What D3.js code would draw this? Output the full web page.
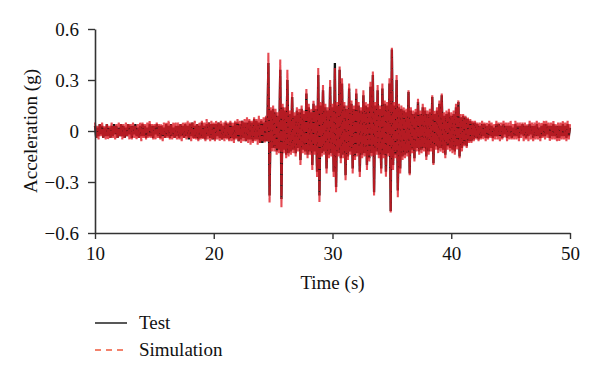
<!DOCTYPE html>
<html>

<head>
    <script src="https://d3js.org/d3.v7.min.js"></script>
    <script>
        // sampled every 0.1 s from 10 s to 50 s, one row per second
        const timeStart = 10
        const timeStep = 0.1

        const testValues = [
            0.03, -0.04, 0.02, -0.03, 0.04, -0.02, 0.03, -0.04, 0.02, -0.03,
            0.04, -0.03, 0.02, -0.04, 0.03, -0.03, 0.04, -0.02, 0.03, -0.04,
            0.02, -0.03, 0.04, -0.03, 0.03, -0.04, 0.02, -0.03, 0.04, -0.02,
            0.03, -0.04, 0.03, -0.02, 0.04, -0.03, 0.02, -0.04, 0.03, -0.03,
            0.04, -0.03, 0.03, -0.04, 0.02, -0.03, 0.04, -0.03, 0.03, -0.04,
            0.03, -0.02, 0.04, -0.03, 0.03, -0.04, 0.03, -0.03, 0.02, -0.04,
            0.04, -0.03, 0.03, -0.04, 0.04, -0.03, 0.02, -0.04, 0.03, -0.03,
            0.03, -0.04, 0.04, -0.03, 0.03, -0.04, 0.04, -0.03, 0.03, -0.05,
            0.04, -0.03, 0.05, -0.04, 0.03, -0.04, 0.04, -0.05, 0.03, -0.04,
            0.05, -0.04, 0.03, -0.05, 0.04, -0.03, 0.05, -0.04, 0.04, -0.05,
            0.04, -0.05, 0.04, -0.03, 0.05, -0.04, 0.04, -0.05, 0.03, -0.04,
            0.05, -0.04, 0.04, -0.05, 0.05, -0.04, 0.03, -0.05, 0.05, -0.04,
            0.05, -0.06, 0.04, -0.05, 0.06, -0.04, 0.05, -0.06, 0.05, -0.05,
            0.06, -0.05, 0.05, -0.06, 0.07, -0.05, 0.06, -0.05, 0.05, -0.07,
            0.06, -0.07, 0.05, -0.06, 0.08, -0.06, 0.40, -0.38, 0.12, -0.10,
            0.13, -0.10, 0.11, -0.12, 0.09, -0.11, 0.36, -0.40, 0.14, -0.11,
            0.12, -0.14, 0.30, -0.13, 0.10, -0.12, 0.20, -0.11, 0.09, -0.13,
            0.12, -0.10, 0.11, -0.17, 0.13, -0.11, 0.10, -0.12, 0.22, -0.14,
            0.14, -0.12, 0.11, -0.20, 0.16, -0.12, 0.13, -0.24, 0.33, -0.38,
            0.15, -0.13, 0.24, -0.12, 0.14, -0.22, 0.12, -0.14, 0.26, -0.13,
            0.14, -0.24, 0.40, -0.33, 0.15, -0.13, 0.36, -0.16, 0.28, -0.14,
            0.15, -0.26, 0.13, -0.15, 0.25, -0.12, 0.16, -0.22, 0.13, -0.15,
            0.22, -0.13, 0.15, -0.24, 0.12, -0.14, 0.21, -0.13, 0.15, -0.20,
            0.14, -0.16, 0.26, -0.13, 0.33, -0.36, 0.15, -0.12, 0.24, -0.14,
            0.13, -0.22, 0.25, -0.14, 0.16, -0.24, 0.15, -0.13, 0.28, -0.47,
            0.48, -0.20, 0.15, -0.14, 0.30, -0.35, 0.14, -0.22, 0.13, -0.15,
            0.12, -0.14, 0.11, -0.13, 0.23, -0.25, 0.12, -0.11, 0.10, -0.16,
            0.11, -0.10, 0.17, -0.12, 0.10, -0.11, 0.14, -0.10, 0.12, -0.15,
            0.10, -0.12, 0.11, -0.10, 0.20, -0.19, 0.10, -0.09, 0.12, -0.11,
            0.16, -0.10, 0.21, -0.11, 0.09, -0.14, 0.10, -0.09, 0.11, -0.10,
            0.09, -0.11, 0.10, -0.12, 0.14, -0.09, 0.17, -0.15, 0.08, -0.10,
            0.09, -0.08, 0.08, -0.09, 0.07, -0.06, 0.06, -0.06, 0.05, -0.05,
            0.05, -0.04, 0.04, -0.05, 0.03, -0.04, 0.04, -0.03, 0.04, -0.04,
            0.03, -0.04, 0.04, -0.03, 0.03, -0.04, 0.02, -0.03, 0.04, -0.03,
            0.04, -0.03, 0.03, -0.04, 0.04, -0.02, 0.03, -0.04, 0.03, -0.03,
            0.03, -0.04, 0.02, -0.03, 0.04, -0.03, 0.03, -0.04, 0.03, -0.02,
            0.04, -0.03, 0.03, -0.04, 0.03, -0.03, 0.04, -0.02, 0.03, -0.04,
            0.03, -0.03, 0.04, -0.03, 0.02, -0.04, 0.03, -0.03, 0.04, -0.03,
            0.04, -0.02, 0.03, -0.04, 0.03, -0.03, 0.04, -0.03, 0.03, -0.04,
            0.03, -0.04, 0.03, -0.03, 0.04, -0.03, 0.03, -0.04, 0.04, -0.03,
            0.02
        ]

        const simulationValues = [
            0.05, -0.04, 0.03, -0.05, 0.04, -0.03, 0.05, -0.04, 0.03, -0.05,
            0.04, -0.05, 0.03, -0.04, 0.05, -0.04, 0.03, -0.05, 0.04, -0.04,
            0.05, -0.03, 0.04, -0.05, 0.04, -0.04, 0.05, -0.03, 0.04, -0.05,
            0.04, -0.05, 0.05, -0.04, 0.03, -0.05, 0.04, -0.04, 0.05, -0.06,
            0.05, -0.04, 0.04, -0.05, 0.05, -0.04, 0.06, -0.04, 0.04, -0.05,
            0.04, -0.05, 0.05, -0.04, 0.04, -0.05, 0.04, -0.06, 0.05, -0.04,
            0.05, -0.04, 0.06, -0.05, 0.04, -0.05, 0.05, -0.04, 0.05, -0.05,
            0.05, -0.05, 0.04, -0.06, 0.05, -0.04, 0.05, -0.05, 0.06, -0.04,
            0.05, -0.06, 0.05, -0.05, 0.06, -0.05, 0.04, -0.06, 0.05, -0.05,
            0.06, -0.05, 0.05, -0.06, 0.07, -0.05, 0.05, -0.06, 0.06, -0.05,
            0.05, -0.06, 0.06, -0.05, 0.05, -0.06, 0.06, -0.05, 0.05, -0.06,
            0.06, -0.05, 0.05, -0.06, 0.06, -0.06, 0.05, -0.07, 0.06, -0.05,
            0.07, -0.06, 0.06, -0.07, 0.06, -0.06, 0.07, -0.06, 0.08, -0.07,
            0.07, -0.08, 0.06, -0.07, 0.08, -0.06, 0.07, -0.08, 0.09, -0.07,
            0.07, -0.06, 0.08, -0.07, 0.09, -0.06, 0.46, -0.42, 0.14, -0.12,
            0.15, -0.12, 0.13, -0.14, 0.11, -0.13, 0.42, -0.45, 0.16, -0.13,
            0.14, -0.16, 0.36, -0.15, 0.12, -0.14, 0.23, -0.13, 0.11, -0.15,
            0.14, -0.12, 0.13, -0.20, 0.15, -0.13, 0.12, -0.14, 0.25, -0.16,
            0.16, -0.14, 0.13, -0.23, 0.18, -0.14, 0.15, -0.27, 0.37, -0.42,
            0.17, -0.15, 0.27, -0.14, 0.16, -0.25, 0.14, -0.16, 0.30, -0.15,
            0.16, -0.27, 0.37, -0.36, 0.17, -0.15, 0.38, -0.19, 0.31, -0.16,
            0.17, -0.29, 0.15, -0.17, 0.28, -0.14, 0.18, -0.25, 0.15, -0.17,
            0.25, -0.15, 0.17, -0.27, 0.14, -0.16, 0.24, -0.15, 0.17, -0.23,
            0.16, -0.18, 0.29, -0.15, 0.35, -0.38, 0.17, -0.14, 0.27, -0.16,
            0.15, -0.25, 0.28, -0.16, 0.18, -0.27, 0.17, -0.15, 0.31, -0.48,
            0.49, -0.23, 0.17, -0.16, 0.33, -0.39, 0.16, -0.25, 0.15, -0.17,
            0.14, -0.16, 0.13, -0.15, 0.24, -0.26, 0.14, -0.13, 0.12, -0.18,
            0.13, -0.12, 0.19, -0.14, 0.12, -0.13, 0.16, -0.12, 0.14, -0.17,
            0.12, -0.14, 0.13, -0.12, 0.21, -0.20, 0.12, -0.11, 0.14, -0.13,
            0.18, -0.12, 0.22, -0.13, 0.11, -0.16, 0.12, -0.11, 0.13, -0.12,
            0.11, -0.13, 0.12, -0.14, 0.16, -0.11, 0.18, -0.16, 0.10, -0.12,
            0.10, -0.09, 0.09, -0.10, 0.08, -0.07, 0.07, -0.07, 0.06, -0.06,
            0.06, -0.05, 0.05, -0.06, 0.05, -0.05, 0.06, -0.05, 0.05, -0.06,
            0.05, -0.05, 0.06, -0.04, 0.05, -0.06, 0.04, -0.05, 0.06, -0.05,
            0.05, -0.06, 0.05, -0.05, 0.06, -0.04, 0.05, -0.06, 0.05, -0.05,
            0.06, -0.05, 0.04, -0.05, 0.06, -0.05, 0.05, -0.06, 0.05, -0.04,
            0.05, -0.06, 0.05, -0.05, 0.04, -0.06, 0.06, -0.05, 0.05, -0.06,
            0.05, -0.05, 0.06, -0.05, 0.05, -0.06, 0.05, -0.04, 0.06, -0.05,
            0.06, -0.04, 0.05, -0.06, 0.05, -0.05, 0.06, -0.05, 0.04, -0.06,
            0.05, -0.06, 0.05, -0.05, 0.06, -0.05, 0.05, -0.06, 0.06, -0.05,
            0.04
        ]

        const xTicks = [10, 20, 30, 40, 50]
        const yTicks = [-0.6, -0.3, 0, 0.3, 0.6]
        const yTickLabels = ["\u22120.6", "\u22120.3", "0", "0.3", "0.6"]
        const seriesNames = ["Test", "Simulation"]

        const width = 600
        const height = 376
        const fontFamily = "'Liberation Serif', 'DejaVu Serif', serif"
        const fontSize = 19
        const axisColor = "#333"
        const testColor = "#111"
        const simulationColor = "rgb(222, 30, 40)"

        function draw() {
            const svg = d3.select("body").append("svg")
                .attr("width", width).attr("height", height)
                .style("background", "white")

            const x = d3.scaleLinear().domain([10, 50]).range([95, 570])
            const y = d3.scaleLinear().domain([-0.6, 0.6]).range([233, 29])

            const line = d3.line()
                .x((d, i) => x(timeStart + i * timeStep))
                .y(d => y(d))

            svg.append("path")
                .datum(testValues)
                .attr("d", line)
                .attr("fill", "none")
                .attr("stroke", testColor)
                .attr("stroke-width", 2.3)

            svg.append("path")
                .datum(simulationValues)
                .attr("d", line)
                .attr("fill", "none")
                .attr("stroke", simulationColor)
                .attr("stroke-opacity", 0.8)
                .attr("stroke-width", 2.1)
                .style("stroke-dasharray", "10 1")

            // axes
            const xAxis = svg.append("g")
                .attr("transform", `translate(0, ${y(-0.6)})`)
                .call(d3.axisBottom(x).tickValues(xTicks).tickSize(6).tickSizeOuter(0).tickPadding(8))
            const yAxis = svg.append("g")
                .attr("transform", `translate(${x(10)}, 0)`)
                .call(d3.axisLeft(y).tickValues(yTicks).tickSize(7).tickSizeOuter(0).tickPadding(9)
                    .tickFormat((d, i) => yTickLabels[i]))

            for (const axis of [xAxis, yAxis]) {
                axis.select(".domain").attr("stroke", axisColor).attr("stroke-width", 1.6)
                axis.selectAll(".tick line").attr("stroke", axisColor).attr("stroke-width", 1.4)
                axis.selectAll("text")
                    .style("font-family", fontFamily)
                    .style("font-size", fontSize + "px")
                    .attr("fill", "#111")
            }

            svg.append("text")
                .text("Time (s)")
                .attr("x", (x(10) + x(50)) / 2)
                .attr("y", 289)
                .attr("text-anchor", "middle")
                .style("font-family", fontFamily)
                .style("font-size", fontSize + "px")
                .attr("fill", "#111")

            svg.append("text")
                .text("Acceleration (g)")
                .attr("transform", `translate(37, ${y(0)}) rotate(-90)`)
                .attr("text-anchor", "middle")
                .style("font-family", fontFamily)
                .style("font-size", fontSize + "px")
                .attr("fill", "#111")

            // legend
            const legend = svg.selectAll(".legend")
                .data(seriesNames)
                .enter()
                .append("g")
                .attr("class", "legend")
                .attr("transform", (d, i) => `translate(95, ${323 + i * 27})`)
            legend.append("line")
                .attr("x1", 0).attr("x2", 32)
                .attr("stroke", (d, i) => i == 0 ? testColor : "rgb(240, 90, 60)")
                .attr("stroke-width", 1.4)
                .style("stroke-dasharray", (d, i) => i == 0 ? null : "6 5")
            legend.append("text")
                .text(d => d)
                .attr("x", 44)
                .attr("y", 6)
                .style("font-family", fontFamily)
                .style("font-size", fontSize + "px")
                .attr("fill", "#111")
        }
    </script>
</head>

<body onload="draw()" style="margin:0">
</body>

</html>
